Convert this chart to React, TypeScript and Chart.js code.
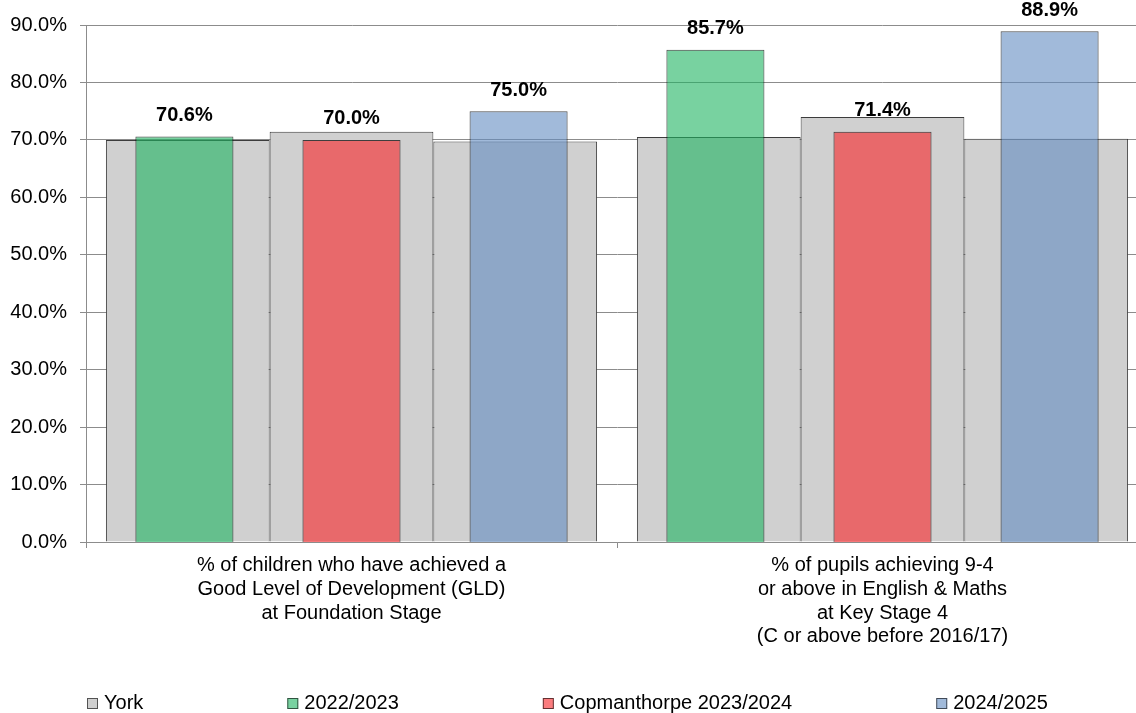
import React, { useEffect, useRef } from 'react';
import { Chart, registerables } from 'chart.js';

Chart.register(...registerables);

const categories: string[][] = [
  ['% of children who have achieved a', 'Good Level of Development (GLD)', 'at Foundation Stage'],
  ['% of pupils achieving 9-4', 'or above in English & Maths', 'at Key Stage 4', '(C or above before 2016/17)'],
];

// York comparison values (three grey bars per category)
const yorkFirst = [70.0, 70.5];
const yorkSecond = [71.4, 74.0];
const yorkThird = [69.7, 70.2];

// School series
const series2022 = [70.6, 85.7];
const seriesCopmanthorpe2023 = [70.0, 71.4];
const series2024 = [75.0, 88.9];

const legendLabels = ['York', '2022/2023', 'Copmanthorpe 2023/2024', '2024/2025'];

const yMin = 0;
const yMax = 90;
const yStep = 10;

const FONT = "'Liberation Sans', Arial, sans-serif";

const GREY = '#D0D0D0';
const GREEN = 'rgba(30,180,96,0.6)';
const RED = 'rgba(248,36,40,0.6)';
const BLUE = 'rgba(98,140,193,0.6)';
const YORK_BORDER = '#3C3C3C';
const BORDER = 'rgba(0,0,0,0.7)';
const GRID = '#8C8C8C';

const W = 1148;
const H = 713;

const dataLabelPlugin = {
  id: 'dataLabels',
  afterDatasetsDraw(chart: any) {
    const ctx = chart.ctx;
    ctx.save();
    ctx.font = `bold 20px ${FONT}`;
    ctx.fillStyle = '#000';
    ctx.textAlign = 'center';
    ctx.textBaseline = 'middle';
    chart.data.datasets.forEach((ds: any, i: number) => {
      const meta = chart.getDatasetMeta(i);
      meta.data.forEach((el: any, j: number) => {
        const v = ds.data[j];
        ctx.fillText(v.toFixed(1) + '%', el.x, el.y - 21);
      });
    });
    ctx.restore();
  },
};

const legendPlugin = {
  id: 'customLegend',
  afterDraw(chart: any) {
    const ctx = chart.ctx;
    const colors = [GREY, GREEN, RED, BLUE];
    ctx.save();
    ctx.font = `20px ${FONT}`;
    ctx.textBaseline = 'middle';
    ctx.textAlign = 'left';
    let x = 87;
    const yc = 703.5;
    legendLabels.forEach((label, i) => {
      ctx.fillStyle = '#fff';
      ctx.fillRect(x, yc - 5.5, 11, 11);
      ctx.fillStyle = colors[i];
      ctx.fillRect(x, yc - 5.5, 11, 11);
      ctx.strokeStyle = 'rgba(0,0,0,0.6)';
      ctx.lineWidth = 1;
      ctx.strokeRect(x + 0.5, yc - 5, 10, 10);
      ctx.fillStyle = '#000';
      const tx = x + 17;
      ctx.fillText(label, tx, yc);
      x = tx + ctx.measureText(label).width + 144;
    });
    ctx.restore();
  },
};

export default function App() {
  const baseRef = useRef<HTMLCanvasElement>(null);
  const topRef = useRef<HTMLCanvasElement>(null);

  useEffect(() => {
    if (!baseRef.current || !topRef.current) return;
    const yorkCommon = {
      backgroundColor: GREY,
      borderColor: YORK_BORDER,
      borderWidth: 1,
      categoryPercentage: 0.925,
      barPercentage: 1,
    };
    const base = new Chart(baseRef.current, {
      type: 'bar',
      data: {
        labels: categories as any,
        datasets: [
          { ...yorkCommon, label: legendLabels[0], data: yorkFirst },
          { ...yorkCommon, label: legendLabels[0], data: yorkSecond },
          { ...yorkCommon, label: legendLabels[0], data: yorkThird },
        ] as any,
      },
      options: {
        responsive: false,
        animation: false,
        devicePixelRatio: 1,
        layout: { padding: { top: 21, left: 0, right: 0, bottom: 0 } },
        plugins: {
          legend: { display: false },
          tooltip: { enabled: false },
          title: { display: false },
        },
        scales: {
          x: {
            type: 'category',
            offset: true,
            grid: {
              display: true,
              drawOnChartArea: false,
              drawTicks: true,
              tickLength: 6,
              color: GRID,
              offset: true,
            },
            border: { display: true, color: GRID },
            ticks: {
              color: '#000',
              font: { family: FONT, size: 20, lineHeight: 1.18 },
              maxRotation: 0,
              minRotation: 0,
              autoSkip: false,
              padding: 6,
            },
            afterFit: (s: any) => {
              s.height = 171;
            },
          },
          y: {
            min: yMin,
            max: yMax,
            ticks: {
              stepSize: yStep,
              color: '#000',
              font: { family: FONT, size: 20 },
              padding: 13,
              callback: (v: any) => Number(v).toFixed(1) + '%',
            },
            grid: { color: GRID, tickLength: 6 },
            border: { display: true, color: GRID },
            afterFit: (s: any) => {
              s.width = 86;
            },
          },
        },
      } as any,
      plugins: [legendPlugin],
    });

    const area = base.chartArea;
    const schoolCommon = {
      borderColor: BORDER,
      borderWidth: 1,
      categoryPercentage: 0.944,
      barPercentage: 0.587,
    };
    const top = new Chart(topRef.current, {
      type: 'bar',
      data: {
        labels: categories as any,
        datasets: [
          { ...schoolCommon, label: legendLabels[1], data: series2022, backgroundColor: GREEN },
          { ...schoolCommon, label: legendLabels[2], data: seriesCopmanthorpe2023, backgroundColor: RED },
          { ...schoolCommon, label: legendLabels[3], data: series2024, backgroundColor: BLUE },
        ] as any,
      },
      options: {
        responsive: false,
        animation: false,
        devicePixelRatio: 1,
        layout: {
          padding: {
            left: area.left,
            top: area.top,
            right: W - area.right,
            bottom: H - area.bottom,
          },
        },
        plugins: {
          legend: { display: false },
          tooltip: { enabled: false },
          title: { display: false },
        },
        scales: {
          x: { type: 'category', offset: true, display: false },
          y: { min: yMin, max: yMax, display: false },
        },
      } as any,
      plugins: [dataLabelPlugin],
    });

    return () => {
      top.destroy();
      base.destroy();
    };
  }, []);

  const canvasStyle: React.CSSProperties = {
    position: 'absolute',
    left: 0,
    top: 0,
    display: 'block',
    width: W,
    height: H,
  };

  return (
    <div
      style={{
        position: 'fixed',
        left: 0,
        top: 0,
        width: 1136,
        height: 713,
        overflow: 'hidden',
        background: '#fff',
      }}
    >
      <canvas ref={baseRef} width={W} height={H} style={canvasStyle} />
      <canvas ref={topRef} width={W} height={H} style={canvasStyle} />
    </div>
  );
}
